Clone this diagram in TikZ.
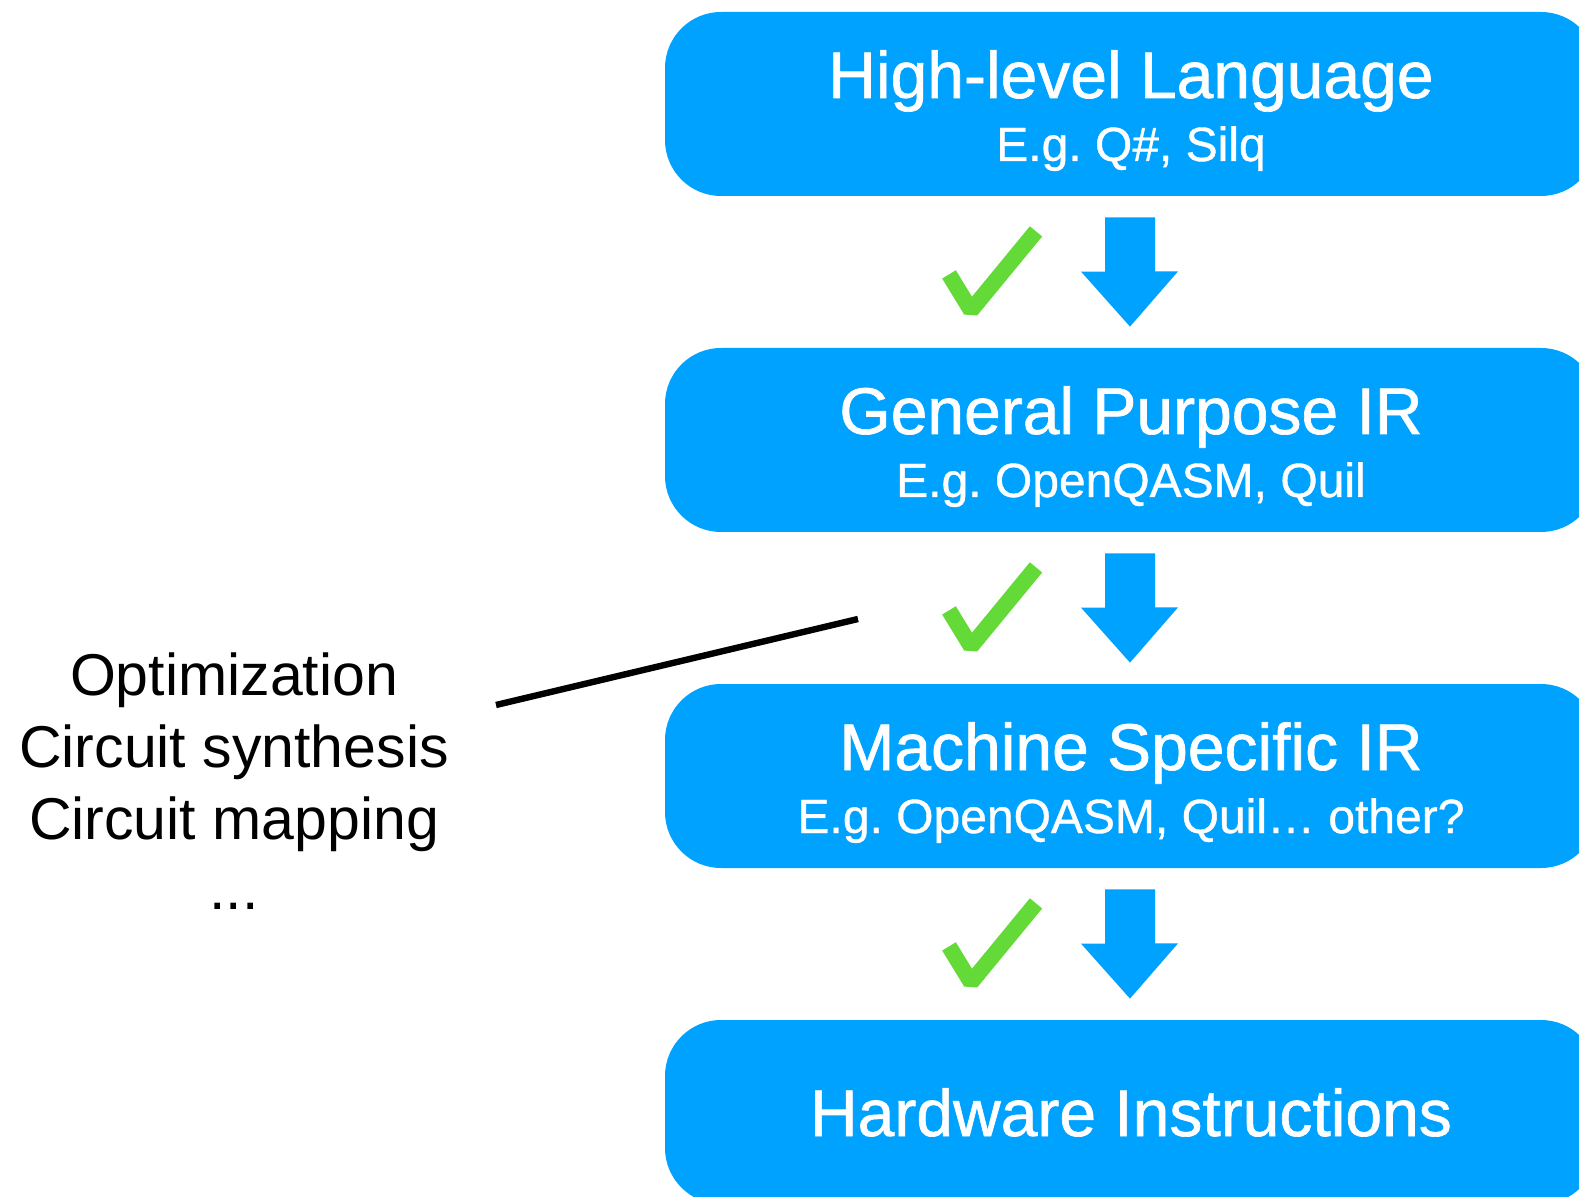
\documentclass[tikz,border=0pt]{standalone}
\usepackage{fontspec}
\setmainfont{Liberation Sans}
\newfontfamily\titlefont[FakeBold=1]{Liberation Sans}
\newfontfamily\subfont[FakeBold=0.8]{Liberation Sans}
\usetikzlibrary{calc}
\definecolor{stageblue}{RGB}{0,162,255}
\definecolor{tickgreen}{RGB}{99,218,56}
\tikzset{
  stage/.style={fill=stageblue, rounded corners=28pt, minimum width=466pt, minimum height=92pt, inner sep=0pt},
  stagetitle/.style={text=white, font=\titlefont\fontsize{33}{36}\selectfont, anchor=base, inner sep=0pt},
  stagesub/.style={text=white, font=\subfont\fontsize{24}{28}\selectfont, anchor=base, inner sep=0pt},
  flow/.style={fill=stageblue},
  tick/.style={draw=tickgreen, line width=8pt, line join=bevel},
  note/.style={font=\fontsize{29.5}{34}\selectfont, anchor=base, inner sep=0pt},
  pointer/.style={line width=3.2pt}
}
% block arrow plus check mark between two stages
\newcommand\stagelink[2]{%
  \fill[flow] ($(#1.south)+(-26,21)$) -- ++(50,0) -- ++(0,54) -- ++(23,0)
    -- ($(#2.north)+(-1,-21)$) -- ++(-49,-55) -- ++(24,0) -- cycle;
  \draw[tick] ($(#1.south)+(-182,78)$) -- ($(#1.south)+(-160,114)$) -- ($(#1.south)+(-95,35)$);
}
\begin{document}
\frenchspacing
\begin{tikzpicture}[x=0.5pt,y=-0.5pt]
\useasboundingbox (0,0) rectangle (1579,1197);
\clip (0,0) rectangle (1579,1197);

% compilation stages
\node[stage] (hl) at (1131,104) {};
\node[stage] (gp) at (1131,440) {};
\node[stage] (ms) at (1131,776) {};
\node[stage] (hw) at (1131,1112) {};

\node[stagetitle] (hlT) at ($(hl.center)+(0,-6)$) {High-level Language};
\node[stagesub]   (hlS) at ($(hl.center)+(0,57)$) {E.g. Q\#, Silq};
\node[stagetitle] (gpT) at ($(gp.center)+(0,-6)$) {General Purpose IR};
\node[stagesub]   (gpS) at ($(gp.center)+(0,57)$) {E.g. OpenQASM, Quil};
\node[stagetitle] (msT) at ($(ms.center)+(0,-6)$) {Machine Specific IR};
\node[stagesub]   (msS) at ($(ms.center)+(0,57)$) {E.g. OpenQASM, Quil… other?};
\node[stagetitle] (hwT) at ($(hw.center)+(0,24)$) {Hardware Instructions};

% transitions
\stagelink{hl}{gp}
\stagelink{gp}{ms}
\stagelink{ms}{hw}

% compiler passes
\node[note] (n1) at (234,695) {Optimization};
\node[note] (n2) at (234,767) {Circuit synthesis};
\node[note] (n3) at (234,839) {Circuit mapping};
\node[note] (n4) at (234,909) {...};

\coordinate (pL) at (496,705);
\coordinate (pR) at (858,619);
\draw[pointer] (pL) -- (pR);
\end{tikzpicture}
\end{document}
